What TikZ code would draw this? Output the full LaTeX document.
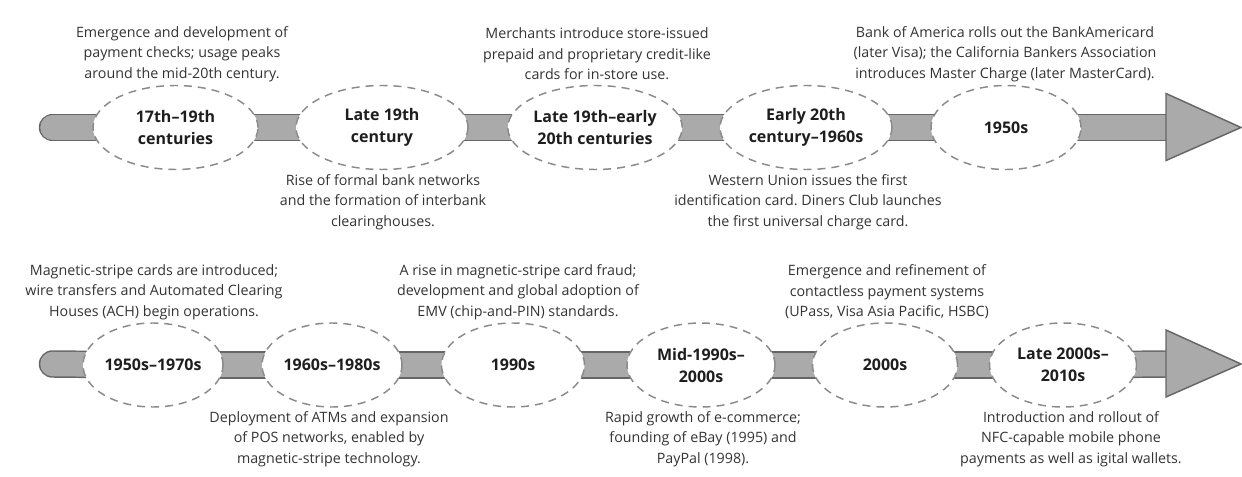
\documentclass[tikz,border=0pt]{standalone}
\usepackage{fontspec}
\setmainfont{Open Sans}
\frenchspacing
\usetikzlibrary{backgrounds,shapes.geometric,calc}
\definecolor{barfill}{HTML}{AAAAAA}
\definecolor{barline}{HTML}{666666}
\definecolor{dashc}{HTML}{8A8A8A}
\definecolor{txt}{HTML}{333333}
\definecolor{lbl}{HTML}{1E1E1E}
\tikzset{
  era/.style={ellipse, draw=dashc, fill=white, line width=1.1pt, dash pattern=on 6pt off 4.5pt,
    minimum width=#1*0.75pt, minimum height=63pt, inner sep=0pt, align=center,
    font=\fontsize{12}{16.5}\selectfont\bfseries, text=lbl},
  desc/.style={align=center, font=\fontsize{10.7}{15.4}\selectfont, text=txt, inner sep=0pt},
  barseg/.style={draw=barline, line width=1.1pt, double=barfill, double distance=18.4pt},
  capseg/.style={barseg, line cap=round},
  headtri/.style={draw=barline, fill=barfill, line width=1.1pt, line join=miter},
}
\begin{document}
\begin{tikzpicture}[x=0.75pt,y=-0.75pt]
\useasboundingbox (0,0) rectangle (1242,477);
% ---------- top row ----------
\node[era=165] (a1) at (175.5,127.5) {17th–19th\\centuries};
\node[era=172] (a2) at (382,127.5) {Late 19th\\century};
\node[era=170] (a3) at (595,127.5) {Late 19th–early\\20th centuries};
\node[era=172] (a4) at (806,127.5) {Early 20th\\century–1960s};
\node[era=150] (a5) at (1006,127.5) {1950s};
\coordinate (as) at (52.5,127.5);
\coordinate (ae) at (1166,127.5);
\coordinate (at) at (1241,127.5);
\begin{scope}[on background layer]
\draw[capseg] (as) -- (a1.center);
\draw[barseg] (a1.center) -- (a2.center);
\draw[barseg] (a2.center) -- (a3.center);
\draw[barseg] (a3.center) -- (a4.center);
\draw[barseg] (a4.center) -- (a5.center);
\draw[barseg] (a5.center) -- (ae);
\end{scope}
\draw[headtri] ($(ae)+(0,-34)$) -- (at) -- ($(ae)+(0,33)$) -- cycle;

\node[desc] (d1) at (182,54) {Emergence and development of\\payment checks; usage peaks\\around the mid-20th century.};
\node[desc] (d2) at (383,202) {Rise of formal bank networks\\and the formation of interbank\\clearinghouses.};
\node[desc] (d3) at (597,54) {Merchants introduce store-issued\\prepaid and proprietary credit-like\\cards for in-store use.};
\node[desc] (d4) at (808,202) {Western Union issues the first\\identification card. Diners Club launches\\the first universal charge card.};
\node[desc] (d5) at (1005,54) {Bank of America rolls out the BankAmericard\\(later Visa); the California Bankers Association\\introduces Master Charge (later MasterCard).};

% ---------- bottom row ----------
\node[era=140] (b1) at (153,365) {1950s–1970s};
\node[era=140] (b2) at (332,365) {1960s–1980s};
\node[era=143] (b3) at (513,365) {1990s};
\node[era=148] (b4) at (701,365) {Mid-1990s–\\2000s};
\node[era=145] (b5) at (885,365) {2000s};
\node[era=147] (b6) at (1063,365) {Late 2000s–\\2010s};
\coordinate (bs) at (52.5,364);
\coordinate (be) at (1166,364);
\coordinate (bt) at (1241,364);
\begin{scope}[on background layer]
\draw[capseg] (bs) -- (b1.center);
\draw[barseg] (b1.center) -- (b2.center);
\draw[barseg] (b2.center) -- (b3.center);
\draw[barseg] (b3.center) -- (b4.center);
\draw[barseg] (b4.center) -- (b5.center);
\draw[barseg] (b5.center) -- (b6.center);
\draw[barseg] (b6.center) -- (be);
\end{scope}
\draw[headtri] ($(be)+(0,-34)$) -- (bt) -- ($(be)+(0,33)$) -- cycle;

\node[desc] (f1) at (154,292) {Magnetic-stripe cards are introduced;\\wire transfers and Automated Clearing\\Houses (ACH) begin operations.};
\node[desc] (f2) at (329,439) {Deployment of ATMs and expansion\\of POS networks, enabled by\\magnetic-stripe technology.};
\node[desc] (f3) at (518,292) {A rise in magnetic-stripe card fraud;\\development and global adoption of\\EMV (chip-and-PIN) standards.};
\node[desc] (f4) at (703,439) {Rapid growth of e-commerce;\\founding of eBay (1995) and\\PayPal (1998).};
\node[desc] (f5) at (887,292) {Emergence and refinement of\\contactless payment systems\\(UPass, Visa Asia Pacific, HSBC)};
\node[desc] (f6) at (1071,439) {Introduction and rollout of\\NFC-capable mobile phone\\payments as well as igital wallets.};
\end{tikzpicture}
\end{document}
